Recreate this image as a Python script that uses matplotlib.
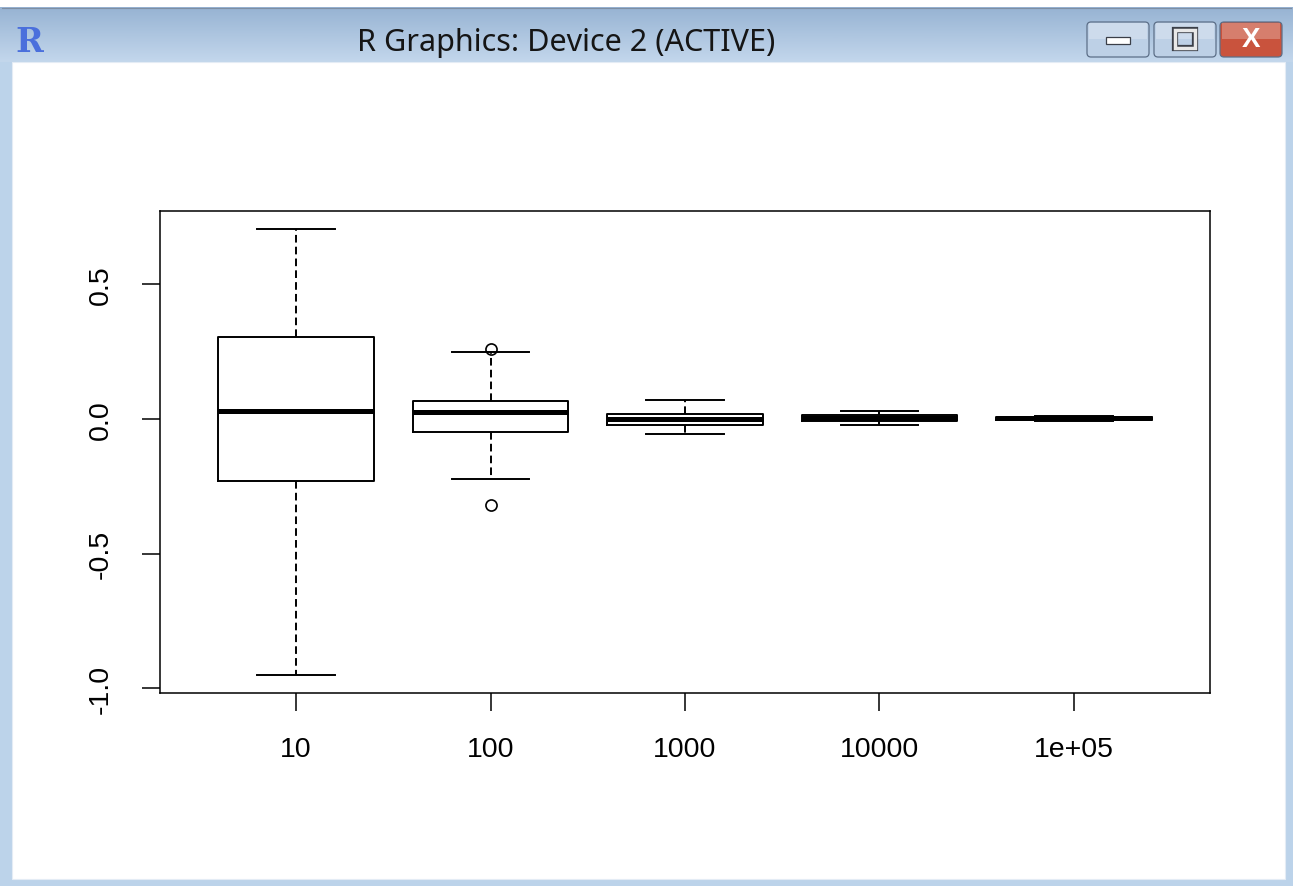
import numpy as np
import matplotlib
matplotlib.use('Agg')
import matplotlib.pyplot as plt
from matplotlib.patches import Rectangle, FancyBboxPatch

# boxplot summary per sample size
categories = ['10', '100', '1000', '10000', '1e+05']
whislo = [-0.951, -0.223, -0.057, -0.022, -0.007]
q1 = [-0.230, -0.051, -0.025, -0.009, -0.003]
med = [0.0285, 0.023, 0.000, 0.001, 0.002]
q3 = [0.302, 0.067, 0.0185, 0.012, 0.005]
whishi = [0.704, 0.246, 0.068, 0.0285, 0.009]
fliers = [[], [0.259, -0.320], [], [], []]

window_title = 'R Graphics: Device 2 (ACTIVE)'

plt.rcParams['font.family'] = ['Liberation Sans', 'DejaVu Sans']
plt.rcParams['lines.scale_dashes'] = False

W, H = 1293, 887
fig = plt.figure(figsize=(W / 100, H / 100), dpi=100)
fig.patch.set_facecolor('white')

# window frame, drawn in pixel coordinates
bg = fig.add_axes([0, 0, 1, 1], zorder=-10)
bg.set_xlim(0, W)
bg.set_ylim(H, 0)
bg.axis('off')

bg.add_patch(Rectangle((0, 8), W, H - 8, facecolor='#bcd3ea', edgecolor='none'))
grad = np.linspace(0, 1, 64).reshape(-1, 1)
top_c = np.array([0x97, 0xb3, 0xd3]) / 255
bot_c = np.array([0xc3, 0xd7, 0xec]) / 255
img = top_c + (bot_c - top_c) * grad[..., None]
bg.imshow(img, extent=(0, W, 63, 8), aspect='auto', zorder=1)
bg.plot([2, W - 2], [8.5, 8.5], color='#7d8ea3', lw=0.8, zorder=2)
bg.add_patch(Rectangle((12, 63), 1273, 817, facecolor='white', edgecolor='#e4ecf5',
                       lw=0.8, zorder=2))

bg.text(29, 42, 'R', fontsize=24, fontweight='bold', color='#4a6fdc',
        family=['DejaVu Serif'], ha='center', va='center', zorder=3)
bg.text(566, 43, window_title, fontsize=22, color='#151515',
        family=['Noto Sans', 'DejaVu Sans'], ha='center', va='center', zorder=3)

buttons = [(1087, '#bdd0e6'), (1154, '#bdd0e6'), (1220, '#c9533d')]
for bx, col in buttons:
    bg.add_patch(FancyBboxPatch((bx, 23), 62, 35, boxstyle='round,pad=0,rounding_size=4',
                                facecolor=col, edgecolor='#5d6f88', lw=0.9, zorder=3))
    bg.add_patch(Rectangle((bx + 2, 24), 58, 16, facecolor='white', alpha=0.25,
                           edgecolor='none', zorder=3))
bg.add_patch(Rectangle((1106, 38), 24, 7, facecolor='white', edgecolor='#3b3f48',
                       lw=0.9, zorder=4))
bg.add_patch(Rectangle((1175, 31), 20, 18, facecolor='none', edgecolor='#3b3f48',
                       lw=4.5, zorder=4))
bg.add_patch(Rectangle((1175, 31), 20, 18, facecolor='none', edgecolor='#e8e8e8',
                       lw=2.5, zorder=4))
bg.text(1251, 40, 'X', fontsize=20, fontweight='bold', color='white',
        ha='center', va='center', zorder=4)

# plot region
ax = fig.add_axes([160 / W, (H - 694) / H, 1050 / W, 482 / H])

stats = []
for i, name in enumerate(categories):
    stats.append(dict(label=name, whislo=whislo[i], q1=q1[i], med=med[i],
                      q3=q3[i], whishi=whishi[i], fliers=fliers[i]))

ax.bxp(stats, positions=range(1, len(categories) + 1), widths=0.8,
       boxprops=dict(color='black', lw=1.4),
       medianprops=dict(color='black', lw=3.6, solid_capstyle='butt'),
       whiskerprops=dict(color='black', lw=1.4, linestyle=(0, (5.5, 3))),
       capprops=dict(color='black', lw=1.4),
       capwidths=0.4,
       flierprops=dict(marker='o', markerfacecolor='none', markeredgecolor='black',
                       markersize=8, markeredgewidth=1.2))

lo = min(whislo + [v for f in fliers for v in f])
hi = max(whishi + [v for f in fliers for v in f])
span = hi - lo
ax.set_ylim(lo - 0.04 * span, hi + 0.04 * span)
ax.set_xlim(0.3, len(categories) + 0.7)

ax.set_yticks([-1.0, -0.5, 0.0, 0.5])
ax.set_yticklabels(['-1.0', '-0.5', '0.0', '0.5'])
ax.tick_params(axis='y', labelrotation=90, length=13, width=1.1, pad=20, labelsize=20.5)
ax.tick_params(axis='x', length=13, width=1.1, pad=18, labelsize=20.5)
for lab in ax.get_yticklabels():
    lab.set_va('center')
for s in ax.spines.values():
    s.set_linewidth(1.1)

fig.savefig('out.png', dpi=100)
